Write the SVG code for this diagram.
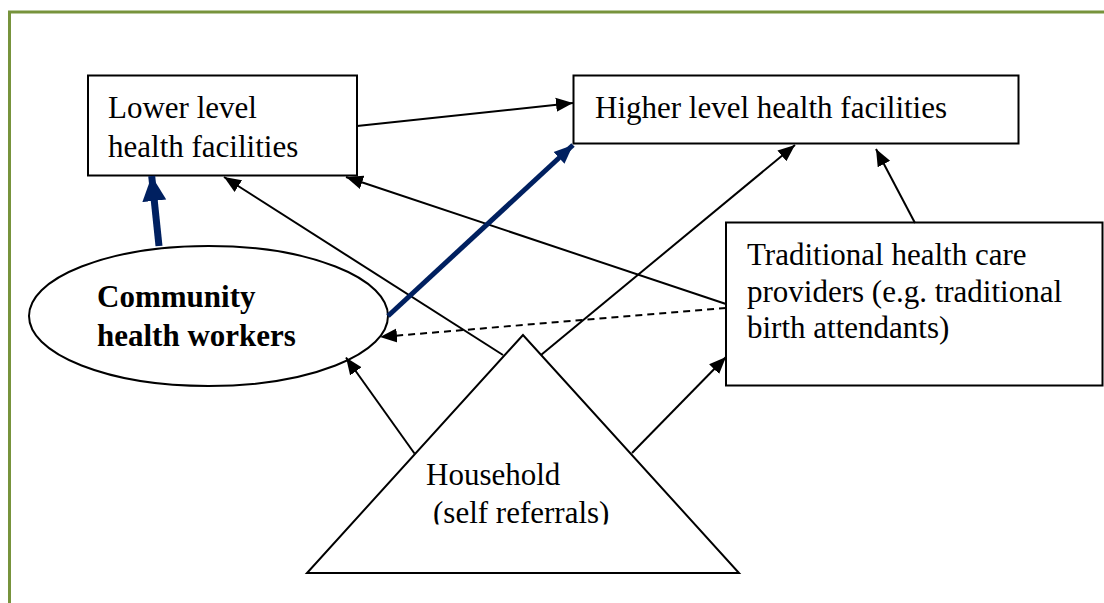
<svg xmlns="http://www.w3.org/2000/svg" width="1104" height="603" viewBox="0 0 1104 603">
<style>
.box{fill:#fff;stroke:#000;stroke-width:2}
.t{font-family:"Liberation Serif","Times New Roman",serif;font-size:31px;fill:#000}
.b{font-weight:bold}
.c{fill:none;stroke:#000;stroke-width:2}
.n{fill:none;stroke:#002060}
</style>
<defs>
<marker id="ah" markerUnits="userSpaceOnUse" markerWidth="18" markerHeight="16" refX="17" refY="7" orient="auto" viewBox="0 0 18 14">
<path d="M0,0 L17,7 L0,14 z" fill="#000"/>
</marker>
<marker id="nh" markerUnits="userSpaceOnUse" markerWidth="20" markerHeight="18" refX="19" refY="8" orient="auto" viewBox="0 0 20 16">
<path d="M0,0 L19,8 L0,16 z" fill="#002060"/>
</marker>
<marker id="nh2" markerUnits="userSpaceOnUse" markerWidth="26" markerHeight="26" refX="25" refY="12" orient="auto" viewBox="0 0 26 24">
<path d="M0,0 L25,12 L0,24 z" fill="#002060"/>
</marker>
<clipPath id="hclip"><rect x="300" y="330" width="450" height="194.5"/></clipPath>
</defs>
<rect width="1104" height="603" fill="#fff"/>
<path d="M9.5,603 V12 H1104" fill="none" stroke="#77933C" stroke-width="3"/>

<g id="household">
<polygon points="523,335 307,573 739,573" class="box"/>
<g clip-path="url(#hclip)">
<text class="t" x="426" y="485">Household</text>
<text class="t" x="433" y="523">(self referrals)</text>
</g>
</g>

<g id="lower">
<rect x="88" y="75.5" width="269" height="100" class="box"/>
<text class="t" x="108" y="118">Lower level</text>
<text class="t" x="108" y="157">health facilities</text>
</g>

<g id="higher">
<rect x="573.5" y="75.5" width="445" height="68" class="box"/>
<text class="t" x="595" y="118">Higher level health facilities</text>
</g>

<g id="chw">
<ellipse cx="208.5" cy="316" rx="179.5" ry="70" class="box"/>
<text class="t b" x="97" y="307">Community</text>
<text class="t b" x="97" y="346">health workers</text>
</g>

<g id="traditional">
<rect x="726" y="222.5" width="376.5" height="163" class="box"/>
<text class="t" x="747" y="265">Traditional health care</text>
<text class="t" x="747" y="302">providers (e.g. traditional</text>
<text class="t" x="747" y="338">birth attendants)</text>
</g>

<g id="connectors">
<line x1="357" y1="126" x2="573" y2="103" class="c" marker-end="url(#ah)"/>
<line x1="503" y1="355" x2="224" y2="177" class="c" marker-end="url(#ah)"/>
<line x1="726" y1="304" x2="346" y2="177" class="c" marker-end="url(#ah)"/>
<line x1="541" y1="355" x2="795" y2="145" class="c" marker-end="url(#ah)"/>
<line x1="915" y1="223" x2="876" y2="149" class="c" marker-end="url(#ah)"/>
<line x1="726" y1="308" x2="380" y2="337" class="c" stroke-dasharray="7,5" marker-end="url(#ah)"/>
<line x1="414.5" y1="453.5" x2="346" y2="357.5" class="c" marker-end="url(#ah)"/>
<line x1="632" y1="453" x2="726" y2="357" class="c" marker-end="url(#ah)"/>
<line x1="388" y1="316" x2="573" y2="145" class="n" stroke-width="5" marker-end="url(#nh)"/>
<line x1="159" y1="246" x2="151.7" y2="176" class="n" stroke-width="7" marker-end="url(#nh2)"/>
</g>
</svg>
